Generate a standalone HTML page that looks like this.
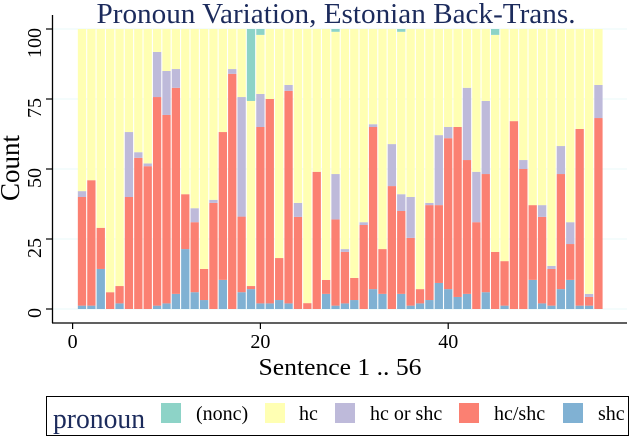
<!DOCTYPE html>
<html><head><meta charset="utf-8"><style>
html,body{margin:0;padding:0;background:#fff;}
svg{display:block;font-family:"Liberation Serif",serif;}
</style></head><body>
<svg id="chart" width="634" height="436" viewBox="0 0 634 436">
<text x="336" y="23" text-anchor="middle" font-size="28" textLength="479" lengthAdjust="spacingAndGlyphs" fill="#1c2b5c">Pronoun Variation, Estonian Back-Trans.</text>
<g id="grid"></g>
<g id="bars"></g>
<g id="axes"></g>
<text transform="translate(19,168) rotate(-90)" text-anchor="middle" font-size="27" fill="#000">Count</text>
<text x="340" y="375" text-anchor="middle" font-size="24" textLength="163" lengthAdjust="spacingAndGlyphs" fill="#000">Sentence 1 .. 56</text>
<g>
<rect x="46.5" y="396.5" width="582" height="39" fill="#fff" stroke="#000" stroke-width="1"/>
<text x="53" y="428" font-size="28" textLength="92" lengthAdjust="spacingAndGlyphs" fill="#1c2b5c">pronoun</text>
<rect x="161" y="403" width="20" height="20" fill="#8dd3c7"/>
<text x="196" y="420" font-size="20">(nonc)</text>
<rect x="265" y="403" width="20" height="20" fill="#ffffb3"/>
<text x="299" y="420" font-size="20">hc</text>
<rect x="335" y="403" width="20" height="20" fill="#bebada"/>
<text x="370" y="420" font-size="20">hc or shc</text>
<rect x="459" y="403" width="20" height="20" fill="#fb8072"/>
<text x="494" y="420" font-size="20">hc/shc</text>
<rect x="563" y="403" width="20" height="20" fill="#80b1d3"/>
<text x="598" y="420" font-size="20">shc</text>
</g>
</svg>
<script>
const shc=[1.2,1.2,14.3,0,2,0,0,0,1.2,2,5.4,21.4,6,3.2,0,10.4,0,6,7.1,2,2,3.2,2,0,0,0,5.4,1.2,2,3.2,0,7.1,5.4,0,5.4,1.2,2,3.2,9.3,7.1,4.3,5.4,0,6,0,1.2,0,0,10.4,2,1.2,7.1,10.4,1.2,1.2,0];
const hcShc=[38.8,44.8,14.7,6,6.2,40,54,51,74.5,67.3,73.6,19.6,25,11.1,37.9,52.8,84,27,1.1,63,73,15,75.9,32.9,2.1,49,5,30.8,18.4,7.9,30,57.9,16,43.9,29.6,24.2,5.1,33.9,27.8,53.9,60.7,47.8,31,42.2,20.4,15.9,67.1,50,26.7,30.9,13.1,41.1,12.8,63.1,3.1,68.2];
const hcOrShc=[2.1,0,0,0,0,23.2,2,1,16.1,15.7,6.7,0,5,0,1.1,0,1.7,42.7,0,11.8,0,0,2.1,5,0,0,0,16.2,1,0,1,1,0,15,6,14.6,0,0.8,25,4,0,25.8,18,26.1,0,0,0,3.2,0,4.2,1.1,10,7.8,0,1.1,11.8];
const nonc=[0,0,0,0,0,0,0,0,0,0,0,0,0,0,0,0,0,0,25.7,2.1,0,0,0,0,0,0,0,1,0,0,0,0,0,0,1,0,0,0,0,0,0,0,0,0,2.1,0,0,0,0,0,0,0,0,0,0,0];
const totals=shc.map(()=>100);
const yTicks=[0,25,50,75,100];
const xTicks=[0,20,40];
const NS="http://www.w3.org/2000/svg";
const X=v=>72.6+v*9.39;
const Y=v=>309-v*2.8;
const grid=document.getElementById('grid'),bars=document.getElementById('bars'),axes=document.getElementById('axes');
function mk(tag,attrs,parent){const e=document.createElementNS(NS,tag);for(const k in attrs)e.setAttribute(k,attrs[k]);parent.appendChild(e);return e;}
yTicks.forEach(t=>{
 const l=mk('line',{x1:53,x2:627,y1:Y(t),y2:Y(t),stroke:'#e8f8f8','stroke-width':1},grid);
 
 
 const tk=mk('line',{x1:46,x2:53,y1:Y(t),y2:Y(t),stroke:'#000','stroke-width':1.2},axes);
 
 
 const tx=mk('text',{transform:`translate(41,${Y(t)-1}) rotate(-90)`,'text-anchor':'end','font-size':20},axes);
 tx.textContent=t;
 
 
});
const series=[['shc',shc,'#80b1d3'],['hc-shc',hcShc,'#fb8072'],['hc-or-shc',hcOrShc,'#bebada']];
shc.forEach((_,i)=>{
 const cx=X(i+1),w=8.3;let base=0;
 const seg=(name,val,color)=>{if(val<=0)return;const r=mk('rect',{x:cx-w/2,y:Y(base+val),width:w,height:val*2.8,fill:color},bars);
  
  base+=val;};
 series.forEach(s=>seg(s[0],s[1][i],s[2]));
 const hc=totals[i]-shc[i]-hcShc[i]-hcOrShc[i]-nonc[i];
 seg('hc',hc,'#ffffb3');
 seg('nonc',nonc[i],'#8dd3c7');
});
const ya=mk('line',{x1:52.5,x2:52.5,y1:15,y2:323,stroke:'#000','stroke-width':1.3},axes);


const xa=mk('line',{x1:52,x2:627,y1:323,y2:323,stroke:'#000','stroke-width':1.3},axes);


xTicks.forEach(t=>{
 const tk=mk('line',{x1:X(t),x2:X(t),y1:323,y2:329,stroke:'#000','stroke-width':1.2},axes);
 
 
 const tx=mk('text',{x:X(t),y:348,'text-anchor':'middle','font-size':20},axes);
 tx.textContent=t;
 
 
});
</script>
</body></html>
